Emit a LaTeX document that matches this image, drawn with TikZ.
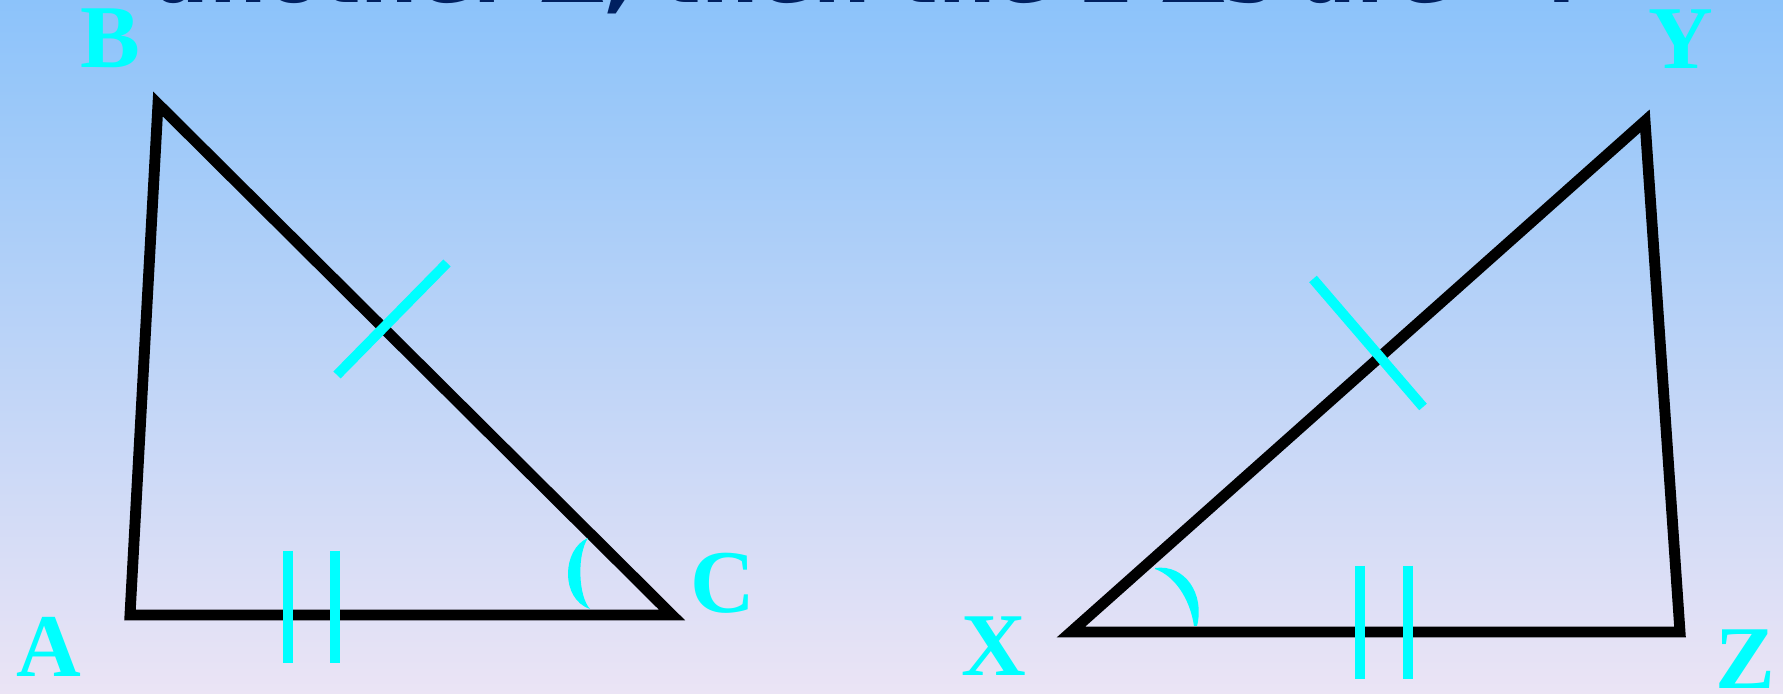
\documentclass[tikz,border=0pt]{standalone}
\usepackage{fontspec}
\setmainfont{Liberation Serif}[BoldFont={Liberation Serif Bold}]
\newfontfamily\slidefont{DejaVu Sans}[BoldFont={DejaVu Sans Bold}]
\usetikzlibrary{calc}
\definecolor{skytop}{RGB}{140,195,250}
\definecolor{skybot}{RGB}{235,228,245}
\definecolor{navy}{RGB}{0,32,96}
\definecolor{aqua}{RGB}{0,255,255}

\begin{document}
\begin{tikzpicture}[x=1cm,y=1cm,
  tri/.style={draw=black,line width=3.1pt},
  tick/.style={draw=aqua,line width=2.85pt},
  lbl/.style={text=aqua,inner sep=0pt,font=\fontsize{25.5}{30}\selectfont\bfseries}]
  \shade[top color=skytop,bottom color=skybot] (0,0) rectangle (17.83,6.94);
  \useasboundingbox (0,0) rectangle (17.83,6.94);
  \node[anchor=base west,inner sep=0pt,text=navy,
    font=\slidefont\fontsize{23}{27}\selectfont\bfseries] (title) at (1.54,6.915)
    {another Δ, then the 2 Δs are ≅.};

  \coordinate (A) at (1.30,0.79);
  \coordinate (B) at (1.58,5.90);
  \coordinate (C) at (6.72,0.79);
  \coordinate (X) at (10.71,0.62);
  \coordinate (Y) at (16.45,5.73);
  \coordinate (Z) at (16.80,0.62);
  \draw[tri] (A) -- (B) -- (C) -- cycle;
  \draw[tri] (X) -- (Y) -- (Z) -- cycle;

  % equal sides
  \draw[tick] (3.37,3.19) -- (4.47,4.31);
  \draw[tick] (13.13,4.15) -- (14.23,2.87);
  \foreach \x in {2.88,3.35}{
    \draw[tick] (\x,1.43) -- (\x,0.31);
  }
  \foreach \x in {13.60,14.08}{
    \draw[tick] (\x,1.28) -- (\x,0.15);
  }

  % equal angles
  \fill[aqua] (5.88,1.56) .. controls (5.62,1.45) and (5.60,0.95) .. (5.90,0.85)
    .. controls (5.78,0.98) and (5.77,1.40) .. (5.88,1.56) -- cycle;
  \fill[aqua] (11.55,1.26) .. controls (11.85,1.30) and (12.05,1.00) .. (11.97,0.68)
    -- (11.94,0.68) .. controls (11.90,0.95) and (11.75,1.18) .. (11.55,1.25) -- cycle;

  \node[lbl] (labA) at (0.49,0.475) {A};
  \node[lbl] (labB) at (1.105,6.555) {B};
  \node[lbl] (labC) at (7.225,1.11) {C};
  \node[lbl] (labX) at (9.935,0.475) {X};
  \node[lbl] (labY) at (16.81,6.55) {Y};
  \node[lbl] (labZ) at (17.45,0.35) {Z};
\end{tikzpicture}
\end{document}
